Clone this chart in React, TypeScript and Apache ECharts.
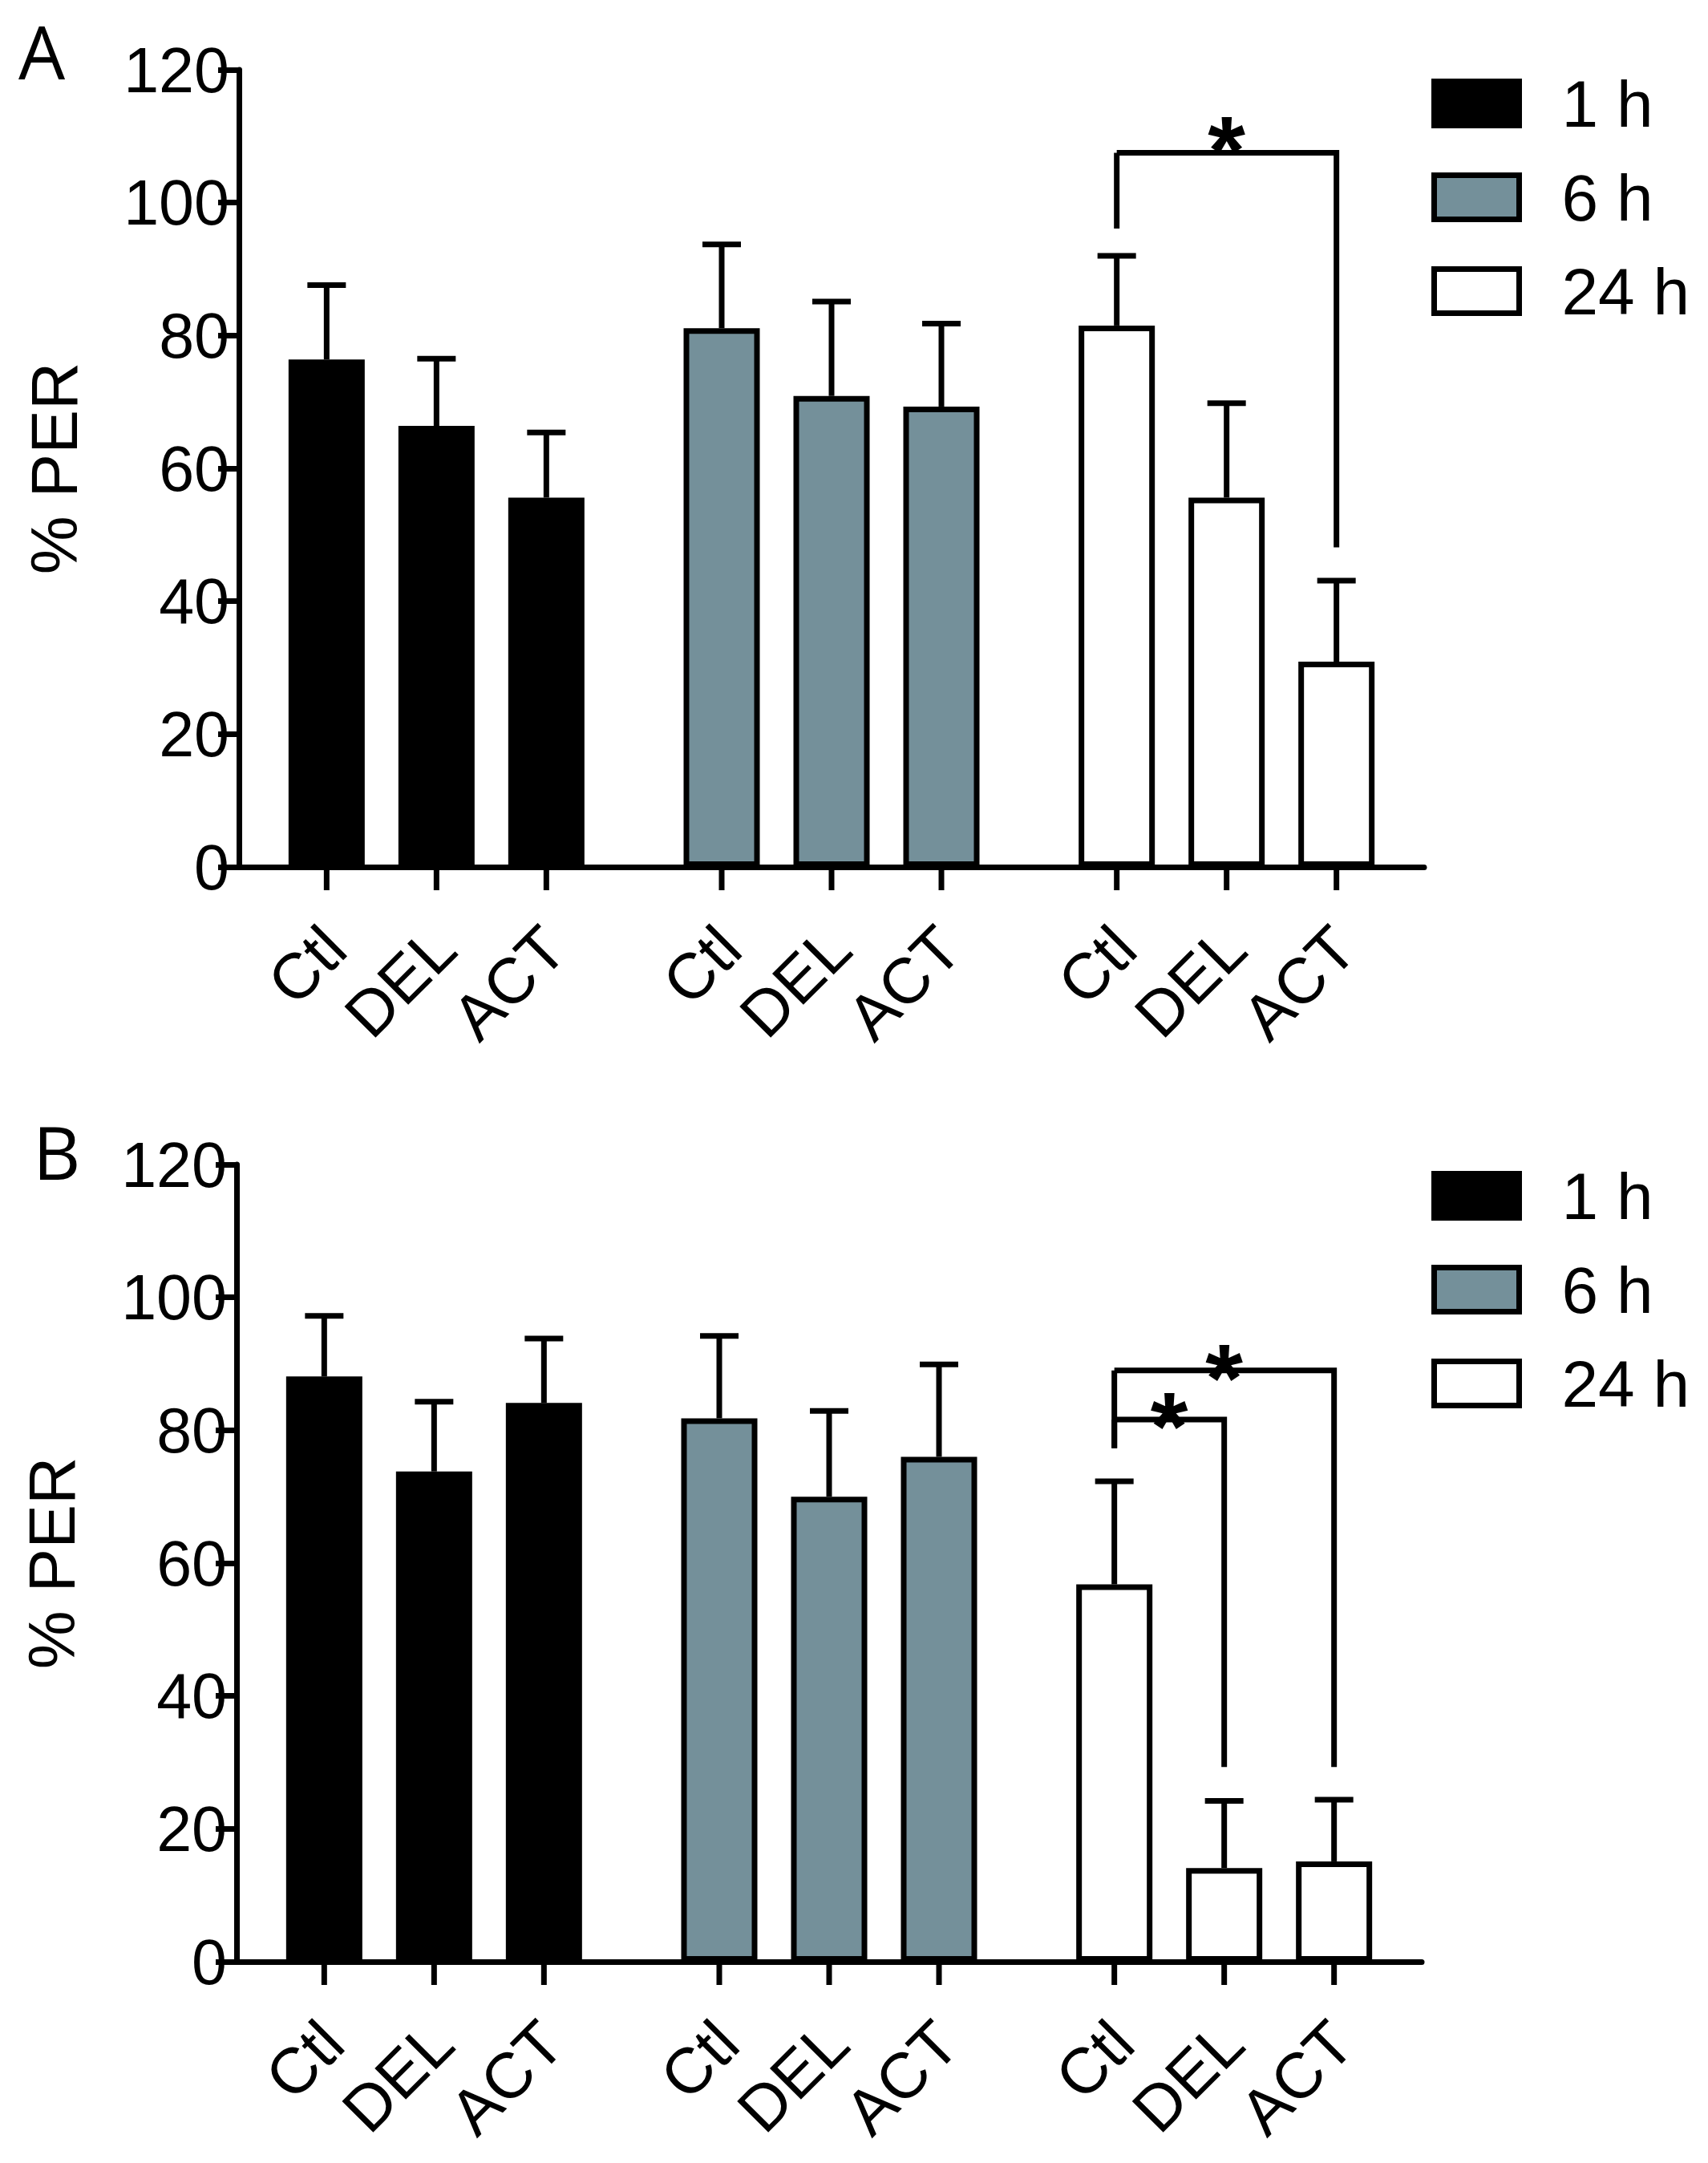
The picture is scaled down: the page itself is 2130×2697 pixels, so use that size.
import { useEffect, useRef } from 'react';
import * as echarts from 'echarts';

const groups = ['1 h', '6 h', '24 h'];
const treatments = ['Ctl', 'DEL', 'ACT'];
const groupColors = ['#000000', '#74909a', '#ffffff'];

// panel A: % PER, mean and SD per treatment (Ctl, DEL, ACT)
const meanA1h = [76.4, 66.4, 55.6];
const meanA6h = [81.1, 70.9, 69.3];
const meanA24h = [81.5, 55.6, 30.9];
const sdA1h = [11.2, 10.1, 9.8];
const sdA6h = [12.6, 14.2, 12.5];
const sdA24h = [10.5, 14.2, 12.2];

// panel B
const meanB1h = [88.1, 73.8, 84.1];
const meanB6h = [81.8, 70.0, 76.0];
const meanB24h = [56.8, 14.1, 15.1];
const sdB1h = [9.1, 10.5, 9.7];
const sdB6h = [12.4, 12.9, 13.9];
const sdB24h = [15.5, 10.1, 9.3];

// significance brackets: [group, from, to, top, left start, right end, star]
const bracketsA = [[2, 0, 2, 107.5, 96.1, 48.1, 111.3]];
const bracketsB = [
  [2, 0, 1, 81.6, 77.3, 29.3, 84.0],
  [2, 0, 2, 89.0, 77.3, 29.3, 91.3],
];

const FONT = "'Liberation Sans', Arial, Helvetica, sans-serif";
const STEP = 137; // distance between bar centres inside a group
const BAR_W = 95;
const BAR_GAP = (STEP - BAR_W) / BAR_W;
const LW = 7;

function panelSeries(idx: number, means: number[][], sds: number[][], brackets: number[][]) {
  const bars = treatments.map((t, ti) => ({
    type: 'bar',
    name: t + idx,
    xAxisIndex: idx,
    yAxisIndex: idx,
    barWidth: BAR_W,
    barGap: (BAR_GAP * 100).toFixed(2) + '%',
    z: 2,
    data: groups.map((g, gi) => ({
      value: means[gi][ti],
      itemStyle: { color: groupColors[gi], borderColor: '#000', borderWidth: LW },
    })),
  }));

  const errData: number[][] = [];
  groups.forEach((g, gi) =>
    treatments.forEach((t, ti) => errData.push([gi, ti, means[gi][ti], sds[gi][ti]]))
  );

  const errors = {
    type: 'custom',
    xAxisIndex: idx,
    yAxisIndex: idx,
    z: 3,
    encode: { x: 0, y: 2 },
    data: errData,
    renderItem: (params: any, api: any) => {
      const gi = api.value(0);
      const ti = api.value(1);
      const m = api.value(2);
      const sd = api.value(3);
      const base = api.coord([gi, 0]);
      const mid = api.coord([gi, m]);
      const top = api.coord([gi, m + sd]);
      const x = base[0] + (ti - 1) * STEP;
      const st = { stroke: '#000', lineWidth: LW };
      return {
        type: 'group',
        children: [
          { type: 'line', shape: { x1: x, y1: mid[1], x2: x, y2: top[1] }, style: st },
          { type: 'line', shape: { x1: x - 24, y1: top[1], x2: x + 24, y2: top[1] }, style: st },
          { type: 'line', shape: { x1: x, y1: base[1], x2: x, y2: base[1] + 29 }, style: st },
          {
            type: 'text',
            x: x + 10,
            y: base[1] + 88,
            rotation: Math.PI / 4,
            style: {
              text: treatments[ti],
              align: 'right',
              verticalAlign: 'middle',
              fontSize: 80,
              fontFamily: FONT,
              fill: '#000',
            },
          },
        ],
      };
    },
  };

  const sig = {
    type: 'custom',
    xAxisIndex: idx,
    yAxisIndex: idx,
    z: 3,
    encode: { x: 0, y: 3 },
    data: brackets,
    renderItem: (params: any, api: any) => {
      const gi = api.value(0);
      const base = api.coord([gi, 0]);
      const xa = base[0] + (api.value(1) - 1) * STEP;
      const xb = base[0] + (api.value(2) - 1) * STEP;
      const yTop = api.coord([gi, api.value(3)])[1];
      const yL = api.coord([gi, api.value(4)])[1];
      const yR = api.coord([gi, api.value(5)])[1];
      const yStar = api.coord([gi, api.value(6)])[1];
      const st = { stroke: '#000', lineWidth: LW, fill: null };
      return {
        type: 'group',
        children: [
          { type: 'line', shape: { x1: xa, y1: yL, x2: xa, y2: yTop }, style: st },
          {
            type: 'polyline',
            shape: { points: [[xa, yTop], [xb, yTop], [xb, yR]] },
            style: st,
          },
          {
            type: 'text',
            x: (xa + xb) / 2,
            y: yStar + 28,
            style: {
              text: '*',
              align: 'center',
              verticalAlign: 'middle',
              fontSize: 120,
              fontWeight: 'bold',
              fontFamily: FONT,
              fill: '#000',
            },
          },
        ],
      };
    },
  };

  return [...bars, errors, sig];
}

const legendSeries = groups.map((g, gi) => ({
  type: 'scatter',
  name: g,
  xAxisIndex: 0,
  yAxisIndex: 0,
  data: [],
  itemStyle: { color: groupColors[gi], borderColor: '#000', borderWidth: LW, opacity: 1 },
}));

function legendAt(top: number) {
  return {
    orient: 'vertical',
    left: 1785,
    top,
    padding: 0,
    icon: 'rect',
    itemWidth: 106,
    itemHeight: 55,
    itemGap: 35,
    selectedMode: false,
    data: groups,
    itemStyle: { borderColor: '#000', borderWidth: LW, opacity: 1 },
    textStyle: { fontSize: 82, fontFamily: FONT, color: '#000', padding: [0, 0, 0, 48] },
  };
}

function yAxisAt(idx: number) {
  return {
    type: 'value',
    gridIndex: idx,
    min: 0,
    max: 120,
    interval: 20,
    name: '% PER',
    nameLocation: 'middle',
    nameGap: 190,
    nameRotate: 90,
    nameTextStyle: { fontSize: 82, fontFamily: FONT, color: '#000' },
    axisLine: { show: true, lineStyle: { color: '#000', width: LW } },
    axisTick: { show: true, length: 26, lineStyle: { color: '#000', width: LW } },
    axisLabel: { fontSize: 79, margin: 12, color: '#000', fontFamily: FONT },
    splitLine: { show: false },
  };
}

function xAxisAt(idx: number) {
  return {
    type: 'category',
    gridIndex: idx,
    data: groups,
    axisLine: { lineStyle: { color: '#000', width: LW } },
    axisTick: { show: false },
    axisLabel: { show: false },
  };
}

export default function App() {
  const ref = useRef<HTMLDivElement>(null);

  useEffect(() => {
    if (!ref.current) return;
    const chart = echarts.init(ref.current, null, { renderer: 'svg' });
    const titleFont = { fontSize: 92, fontFamily: "'Open Sans', 'Noto Sans', sans-serif", fontWeight: 'normal', color: '#000' };
    const option: any = {
      animation: false,
      backgroundColor: '#fff',
      title: [
        { text: 'A', left: 18, top: 12, textStyle: titleFont },
        { text: 'B', left: 36, top: 1384, textStyle: titleFont },
      ],
      legend: [legendAt(88), legendAt(1450)],
      grid: [
        { left: 298, top: 87, width: 1478, height: 994 },
        { left: 295, top: 1452, width: 1478, height: 994 },
      ],
      xAxis: [xAxisAt(0), xAxisAt(1)],
      yAxis: [yAxisAt(0), yAxisAt(1)],
      series: [
        ...panelSeries(0, [meanA1h, meanA6h, meanA24h], [sdA1h, sdA6h, sdA24h], bracketsA),
        ...panelSeries(1, [meanB1h, meanB6h, meanB24h], [sdB1h, sdB6h, sdB24h], bracketsB),
        ...legendSeries,
      ],
    };
    chart.setOption(option);
    return () => chart.dispose();
  }, []);

  return (
    <div
      ref={ref}
      style={{ position: 'absolute', left: 0, top: 0, width: 2130, height: 2697, background: '#fff' }}
    />
  );
}
